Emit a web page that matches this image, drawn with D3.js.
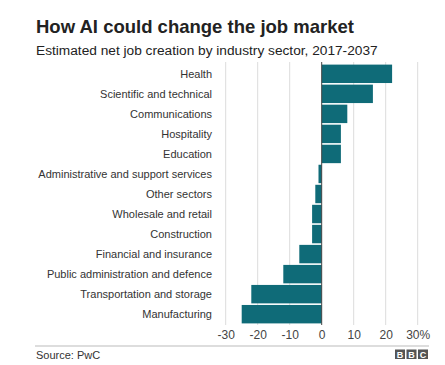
<!DOCTYPE html>
<html><head><meta charset="utf-8">
<script src="https://cdn.jsdelivr.net/npm/d3@7"></script>
<style>body{margin:0;background:#fff;font-family:"Liberation Sans",Arial,Helvetica,sans-serif;}</style>
</head><body>
<svg id="c" width="445" height="365"></svg>
<script>
const categories = ["Health","Scientific and technical","Communications","Hospitality","Education","Administrative and support services","Other sectors","Wholesale and retail","Construction","Financial and insurance","Public administration and defence","Transportation and storage","Manufacturing"];
const values = [22,16,8,6,6,-1,-2,-3,-3,-7,-12,-22,-25];
const tickValues = [-30,-20,-10,0,10,20,30];
const tickLabels = ["-30","-20","-10","0","10","20","30%"];

const svg = d3.select("#c");
svg.append("rect").attr("width",445).attr("height",365).attr("fill","#fff");

svg.append("text").attr("x",36).attr("y",33).attr("font-size",18.5).attr("font-weight","bold").attr("fill","#222").text("How AI could change the job market");
svg.append("text").attr("x",36).attr("y",55).attr("font-size",13.7).attr("fill","#222").text("Estimated net job creation by industry sector, 2017-2037");

const x = d3.scaleLinear().domain([-30,30]).range([225.7,417.7]);
const y = d3.scaleBand().domain(categories).range([64,324]).paddingInner(0.08).paddingOuter(0.03);

// gridlines
svg.append("g").selectAll("line").data(tickValues.filter(d=>d!==0)).join("line")
  .attr("x1",d=>x(d)).attr("x2",d=>x(d)).attr("y1",62).attr("y2",325)
  .attr("stroke","#dcdcdc").attr("stroke-width",1);

// bars
svg.append("g").selectAll("rect").data(categories).join("rect")
  .attr("x",(d,i)=>x(Math.min(0,values[i])))
  .attr("width",(d,i)=>Math.abs(x(values[i])-x(0)))
  .attr("y",d=>y(d)).attr("height",y.bandwidth())
  .attr("fill","#0f6b78");

// zero line
svg.append("line").attr("x1",x(0)).attr("x2",x(0)).attr("y1",62).attr("y2",325).attr("stroke","#444").attr("stroke-width",1);

// category labels
svg.append("g").selectAll("text").data(categories).join("text")
  .attr("x",212).attr("y",d=>y(d)+y.bandwidth()/2).attr("dy","0.35em")
  .attr("text-anchor","end").attr("font-size",11).attr("fill","#333").text(d=>d);

// x axis labels
const xAxis = d3.axisBottom(x).tickValues(tickValues).tickSize(0).tickFormat((d,i)=>tickLabels[i]);
const ax = svg.append("g").attr("transform","translate(0,327)").call(xAxis);
ax.select(".domain").remove();
ax.selectAll("text").attr("font-size",12).attr("fill","#444").attr("font-family","Liberation Sans, Arial, sans-serif");

// bottom rule
svg.append("line").attr("x1",35).attr("x2",429).attr("y1",346).attr("y2",346).attr("stroke","#bbb").attr("stroke-width",1);
svg.append("text").attr("x",36).attr("y",359).attr("font-size",11).attr("fill","#333").text("Source: PwC");

// BBC logo
const letters = ["B","B","C"];
const lg = svg.append("g");
letters.forEach((l,i)=>{
  lg.append("rect").attr("x",395+i*11.5).attr("y",349.5).attr("width",10).attr("height",9.5).attr("fill","#555");
  lg.append("text").attr("x",400+i*11.5).attr("y",357.8).attr("text-anchor","middle").attr("font-size",9).attr("font-weight","bold").attr("fill","#fff").text(l);
});
</script>
</body></html>
